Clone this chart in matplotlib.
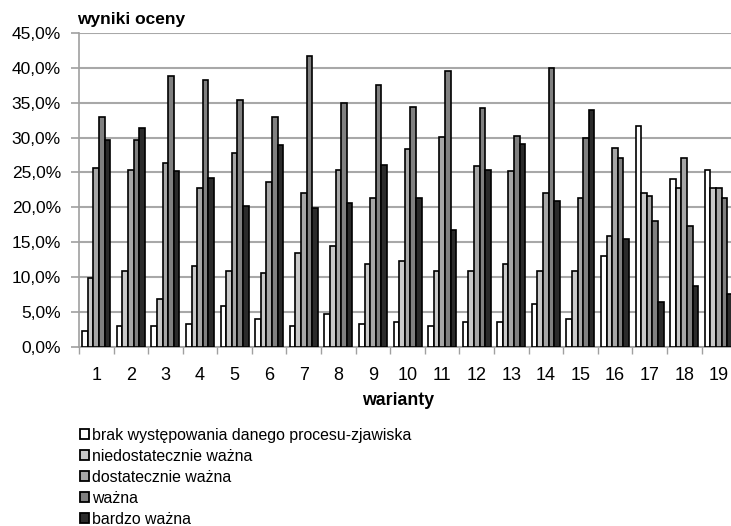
import numpy as np
import matplotlib
matplotlib.use("Agg")
from matplotlib import pyplot as plt
from matplotlib.patches import Patch
from matplotlib.ticker import FuncFormatter, FixedLocator

plt.rcParams['font.family'] = ['Liberation Sans', 'DejaVu Sans']

warianty = [str(i) for i in range(1, 20)]

brak = [2.2, 3.0, 2.9, 3.3, 5.8, 4.0, 3.0, 4.7, 3.2, 3.6,
        2.9, 3.6, 3.6, 6.1, 4.0, 13.0, 31.7, 24.1, 25.3]
niedostatecznie = [9.8, 10.8, 6.8, 11.6, 10.8, 10.5, 13.4, 14.5, 11.9, 12.3,
                   10.9, 10.8, 11.8, 10.8, 10.8, 15.9, 22.0, 22.7, 22.8]
dostatecznie = [25.6, 25.3, 26.3, 22.7, 27.8, 23.7, 22.1, 25.3, 21.3, 28.3,
                30.1, 26.0, 25.2, 22.0, 21.3, 28.5, 21.6, 27.1, 22.8]
wazna = [32.9, 29.6, 38.8, 38.3, 35.4, 33.0, 41.7, 35.0, 37.6, 34.4,
         39.5, 34.3, 30.2, 40.0, 30.0, 27.1, 18.1, 17.3, 21.4]
bardzo = [29.6, 31.4, 25.2, 24.2, 20.2, 29.0, 19.9, 20.6, 26.1, 21.4,
          16.7, 25.3, 29.1, 20.9, 33.9, 15.5, 6.4, 8.7, 7.6]

series = [brak, niedostatecznie, dostatecznie, wazna, bardzo]
labels = ['brak występowania danego procesu-zjawiska', 'niedostatecznie ważna',
          'dostatecznie ważna', 'ważna', 'bardzo ważna']
colors = ['#ffffff', '#c8c8c8', '#a6a6a6', '#808080', '#2b2b2b']

fig = plt.figure(figsize=(7.31, 5.26), dpi=100)
ax = fig.add_axes([0.108, 0.341, 0.899, 0.596])

x = np.arange(len(warianty))
w = 0.162
for i, (vals, col) in enumerate(zip(series, colors)):
    ax.bar(x + (i - 2) * w, vals, width=w, color=col, edgecolor='black',
           linewidth=1.2, zorder=3)

ax.set_xlim(-0.5, len(warianty) - 0.5)
ax.set_ylim(0, 45)
ax.set_yticks(np.arange(0, 46, 5))
ax.yaxis.set_major_formatter(FuncFormatter(lambda v, p: ('%.1f%%' % v).replace('.', ',')))
ax.grid(axis='y', color='#a8a8a8', linewidth=1.5, zorder=0)

ax.set_xticks(x)
ax.set_xticklabels(warianty)
ax.xaxis.set_minor_locator(FixedLocator(np.arange(-0.5, len(warianty), 1)))
ax.tick_params(axis='x', which='major', length=0, pad=15, labelsize=13)
ax.tick_params(axis='x', which='minor', length=5, color='#a0a0a0', width=1)
ax.tick_params(axis='y', length=6, color='#a0a0a0', width=1.2, labelsize=12.5, pad=7)

for s in ['top', 'right']:
    ax.spines[s].set_visible(False)
for s in ['left', 'bottom']:
    ax.spines[s].set_color('#a0a0a0')
    ax.spines[s].set_linewidth(1.2)

fig.text(0.105, 0.962, 'wyniki oceny', fontsize=12.5, fontweight='bold', ha='left', va='center')
fig.text(0.5445, 0.2395, 'warianty', fontsize=12.8, fontweight='bold', ha='center', va='center')

handles = [Patch(facecolor=c, edgecolor='black', linewidth=1.3) for c in colors]
fig.legend(handles, labels, loc='upper left', bbox_to_anchor=(0.109, 0.187),
           frameon=False, fontsize=11.4, handlelength=0.6, handleheight=0.6,
           handletextpad=0.15, labelspacing=0.38, borderaxespad=0, borderpad=0)

fig.savefig('out.png', dpi=100)
